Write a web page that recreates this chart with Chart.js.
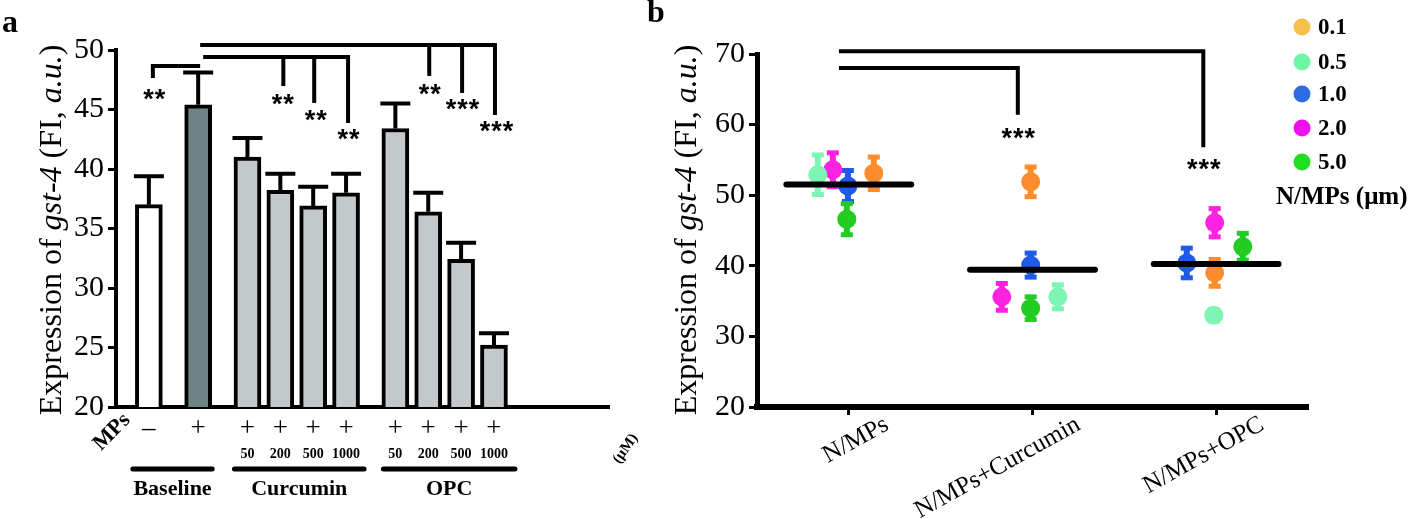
<!DOCTYPE html>
<html><head><meta charset="utf-8">
<script src="https://cdn.jsdelivr.net/npm/chart.js"></script>
<style>
html,body{margin:0;padding:0;background:#fff;}
#wrap{position:relative;width:1418px;height:519px;overflow:hidden;background:#fff;}
#ca{position:absolute;left:0;top:0;}
#cb{position:absolute;left:640px;top:0;}
</style></head><body>
<div id="wrap"><canvas id="ca" width="640" height="519"></canvas><canvas id="cb" width="778" height="519"></canvas></div>
<script>
// ---------- Panel a data ----------
const mpsSigns   = ['–','+','+','+','+','+','+','+','+','+'];
const doseLabels = ['','','50','200','500','1000','50','200','500','1000'];
const groupNames = ['Baseline','Curcumin','OPC'];
const groupOfBar = [0,0,1,1,1,1,2,2,2,2];
const meansA     = [37.0,45.4,41.0,38.2,36.9,38.0,43.4,36.4,32.4,25.2];
const semA       = [2.4,2.7,1.6,1.4,1.6,1.6,2.1,1.6,1.4,1.0];
const yTicksA    = [20,25,30,35,40,45,50];

// ---------- Panel b data ----------
const categoriesB = ['N/MPs','N/MPs+Curcumin','N/MPs+OPC'];
const sizeLabels  = ['0.1','0.5','1.0','2.0','5.0'];
const size01 = [53.1,51.9,39.0];  const err01 = [2.3,2.1,1.9];
const size05 = [52.9,35.6,33.0];  const err05 = [2.8,1.7,0.8];
const size10 = [51.3,40.1,40.4];  const err10 = [2.2,1.7,2.1];
const size20 = [53.6,35.6,46.1];  const err20 = [2.4,1.9,2.0];
const size50 = [46.6,34.0,42.7];  const err50 = [2.2,1.6,1.9];
const yTicksB = [20,30,40,50,60,70];

// ---------- layout / style (not data) ----------
const FONT = "'Liberation Serif', 'Times New Roman', serif";
const slotA = [2,5,8,10,12,14,17,19,21,23];   // category slot of each bar
const TOTAL_SLOTS = 31;
const barFill = ['#ffffff','#6d8487','#c3c8cb','#c3c8cb','#c3c8cb','#c3c8cb','#c3c8cb','#c3c8cb','#c3c8cb','#c3c8cb'];
const seriesB = [size01,size05,size10,size20,size50];
const errorsB = [err01,err05,err10,err20,err50];
const pointColors  = ['#ff8c2a','#7df5b4','#1f5ae8','#ff22e0','#22cc22'];
const legendColors = ['#f6c04a','#6ef5a5','#2f6be0','#ee10ee','#22dd22'];
const jitterB = [
  [0.136,-0.010,-0.008],
  [-0.169,0.138,-0.013],
  [-0.005,-0.010,-0.160],
  [-0.087,-0.167,-0.008],
  [-0.011,-0.010,0.145]
];
const labelShiftB = [32,40,40];

function yTitle(ctx, bx, cy, size){
  const segs = [['Expression of ',false],['gst-4',true],[' (FI, ',false],['a.u.',true],[')',false]];
  let total = 0;
  segs.forEach(s=>{ctx.font=(s[1]?'italic ':'')+size+'px '+FONT; total+=ctx.measureText(s[0]).width;});
  ctx.save(); ctx.translate(bx,cy); ctx.rotate(-Math.PI/2);
  ctx.textBaseline='alphabetic'; ctx.textAlign='left'; ctx.fillStyle='#000';
  let x=-total/2;
  segs.forEach(s=>{ctx.font=(s[1]?'italic ':'')+size+'px '+FONT; ctx.fillText(s[0],x,0); x+=ctx.measureText(s[0]).width;});
  ctx.restore();
}
function stars(ctx, txt, cx, cy){
  ctx.save();
  ctx.font="bold 27px 'Liberation Sans', Arial, sans-serif";
  ctx.letterSpacing='1px';
  ctx.textAlign='center'; ctx.textBaseline='alphabetic'; ctx.fillStyle='#000';
  ctx.fillText(txt, cx+1, cy+15);
  ctx.restore();
}
function poly(ctx, pts, lw){
  ctx.save(); ctx.lineWidth=lw; ctx.strokeStyle='#000'; ctx.lineJoin='miter'; ctx.lineCap='butt';
  ctx.beginPath(); ctx.moveTo(pts[0][0],pts[0][1]);
  for(let i=1;i<pts.length;i++) ctx.lineTo(pts[i][0],pts[i][1]);
  ctx.stroke(); ctx.restore();
}

// ---------- Chart A ----------
const labelsA = Array(TOTAL_SLOTS).fill('');
const dataA = Array(TOTAL_SLOTS).fill(null);
const fillA = Array(TOTAL_SLOTS).fill('#fff');
slotA.forEach((s,i)=>{labelsA[s]=mpsSigns[i]; dataA[s]=meansA[i]; fillA[s]=barFill[i];});

const pluginA = {
  id:'decorA',
  afterDraw(chart){
    const {ctx, scales:{x,y}} = chart;
    const px = i => x.getPixelForValue(slotA[i]);
    const py = v => y.getPixelForValue(v);
    ctx.save();
    ctx.strokeStyle='#000'; ctx.fillStyle='#000';
    // error bars
    ctx.lineWidth=4;
    meansA.forEach((m,i)=>{
      const cx=px(i), y0=py(m), y1=py(m+semA[i]);
      ctx.beginPath(); ctx.moveTo(cx,y0); ctx.lineTo(cx,y1); ctx.moveTo(cx-15,y1); ctx.lineTo(cx+15,y1); ctx.stroke();
    });
    // x labels
    ctx.textAlign='center'; ctx.textBaseline='middle';
    mpsSigns.forEach((s,i)=>{ ctx.font='27px '+FONT; ctx.fillText(s,px(i),429); });
    doseLabels.forEach((d,i)=>{ ctx.font='bold 14px '+FONT; ctx.fillText(d,px(i),454); });
    // MPs
    ctx.save(); ctx.translate(112,432); ctx.rotate(-Math.PI/4);
    ctx.font='bold 22px '+FONT; ctx.fillText('MPs',0,0); ctx.restore();
    // (μM)
    ctx.save(); ctx.translate(616,462); ctx.rotate(-0.95);
    ctx.font='bold 15px '+FONT; ctx.textAlign='left'; ctx.fillText('(μM)',0,0); ctx.restore();
    // group lines
    const gExt = [[-16,14],[-13,18],[-12,21]];
    groupNames.forEach((g,k)=>{
      const idx = groupOfBar.map((v,i)=>v===k?i:-1).filter(i=>i>=0);
      const x1 = px(idx[0])+gExt[k][0], x2 = px(idx[idx.length-1])+gExt[k][1];
      ctx.lineWidth=5; ctx.lineCap='round';
      ctx.beginPath(); ctx.moveTo(x1,469); ctx.lineTo(x2,469); ctx.stroke();
      ctx.font='bold 22px '+FONT; ctx.textAlign='center'; ctx.textBaseline='middle';
      ctx.fillText(g,(x1+x2)/2,489);
    });
    // significance brackets
    poly(ctx,[[px(0)+4,py(47.65)],[px(0)+4,py(48.66)],[px(1)+2,py(48.66)]],4);
    stars(ctx,'**',px(0)+5,py(46.4));
    poly(ctx,[[px(1)+5,py(49.41)],[px(5)+2,py(49.41)],[px(5)+2,py(43.87)]],4);
    poly(ctx,[[px(3)+3,py(49.41)],[px(3)+3,py(46.97)]],4);
    poly(ctx,[[px(4)+1,py(49.41)],[px(4)+1,py(45.55)]],4);
    stars(ctx,'**',px(3)+2,py(45.97));
    stars(ctx,'**',px(4)+2,py(44.6));
    stars(ctx,'**',px(5)+2,py(43.0));
    poly(ctx,[[px(1)+2,py(50.42)],[px(9)+1,py(50.42)],[px(9)+1,py(44.54)]],4);
    poly(ctx,[[px(7)+1,py(50.42)],[px(7)+1,py(47.82)]],4);
    poly(ctx,[[px(8)+1,py(50.42)],[px(8)+1,py(46.39)]],4);
    stars(ctx,'**',px(7)+1,py(46.8));
    stars(ctx,'***',px(8)+1,py(45.55));
    stars(ctx,'***',px(9)+2,py(43.7));
    // titles
    yTitle(ctx,61,230,32);
    ctx.font='bold 32px '+FONT; ctx.textAlign='left'; ctx.textBaseline='alphabetic';
    ctx.fillText('a',2,32);
    ctx.restore();
  }
};

new Chart(document.getElementById('ca'),{
  type:'bar',
  data:{labels:labelsA, datasets:[{data:dataA, backgroundColor:fillA, borderColor:'#000', borderWidth:4, borderSkipped:false, barThickness:27}]},
  options:{
    responsive:false, animation:false, devicePixelRatio:1,
    layout:{padding:{left:0,top:50,right:31,bottom:0}},
    plugins:{legend:{display:false}, tooltip:{enabled:false}},
    scales:{
      x:{offset:false, ticks:{display:false}, grid:{drawOnChartArea:false, drawTicks:false}, border:{display:true,width:4,color:'#000'},
         afterFit(s){s.height=112;}},
      y:{min:20,max:50, afterBuildTicks(s){s.ticks=yTicksA.map(v=>({value:v}));},
         ticks:{font:{family:FONT,size:30}, color:'#000', padding:4},
         grid:{drawOnChartArea:false, drawTicks:true, tickLength:8, tickWidth:3, tickColor:'#000'},
         border:{display:true,width:4,color:'#000'},
         afterFit(s){s.width=116;}}
    }
  },
  plugins:[pluginA]
});

// ---------- Chart B ----------
const pluginB = {
  id:'decorB',
  beforeDatasetsDraw(chart){
    const {ctx, scales:{x,y}} = chart;
    ctx.save();
    seriesB.forEach((ser,k)=>{
      ctx.fillStyle=pointColors[k]; ctx.strokeStyle=pointColors[k];
      ser.forEach((v,g)=>{
        const cx=x.getPixelForValue(g+jitterB[k][g]);
        const yt=y.getPixelForValue(v+errorsB[k][g]), yb=y.getPixelForValue(v-errorsB[k][g]);
        ctx.lineWidth=6; ctx.beginPath(); ctx.moveTo(cx,yt); ctx.lineTo(cx,yb); ctx.stroke();
        ctx.fillRect(cx-6,yt-2.5,12,5); ctx.fillRect(cx-6,yb-2.5,12,5);
      });
    });
    ctx.restore();
  },
  afterDraw(chart){
    const {ctx, scales:{x,y}} = chart;
    const px=v=>x.getPixelForValue(v), py=v=>y.getPixelForValue(v);
    ctx.save();
    // mean lines
    ctx.strokeStyle='#000'; ctx.lineWidth=6; ctx.lineCap='round';
    categoriesB.forEach((c,g)=>{
      const m = seriesB.reduce((a,s)=>a+s[g],0)/seriesB.length;
      ctx.beginPath(); ctx.moveTo(px(g-0.34),py(m)); ctx.lineTo(px(g+0.34),py(m)); ctx.stroke();
    });
    // x labels
    ctx.fillStyle='#000';
    categoriesB.forEach((c,g)=>{
      ctx.save(); ctx.translate(px(g)+labelShiftB[g],412); ctx.rotate(-29*Math.PI/180);
      ctx.font='25px '+FONT; ctx.textAlign='right'; ctx.textBaseline='top';
      ctx.fillText(c,0,0); ctx.restore();
    });
    // brackets
    poly(ctx,[[px(-0.054),py(70.4)],[px(1.93),py(70.4)],[px(1.93),py(56.8)]],4);
    poly(ctx,[[px(-0.054),py(68.0)],[px(0.92),py(68.0)],[px(0.92),py(61.4)]],4);
    stars(ctx,'***',px(0.92),py(59.0));
    stars(ctx,'***',px(1.93),py(54.6));
    // legend
    const ly=[27,62,94,128,162];
    sizeLabels.forEach((l,k)=>{
      ctx.fillStyle=legendColors[k];
      ctx.beginPath(); ctx.arc(662,ly[k],8.5,0,Math.PI*2); ctx.fill();
      ctx.fillStyle='#000'; ctx.font='bold 23px '+FONT; ctx.textAlign='left'; ctx.textBaseline='middle';
      ctx.fillText(l,678,ly[k]+1);
    });
    ctx.font='bold 25px '+FONT; ctx.textAlign='left'; ctx.textBaseline='middle';
    ctx.fillText('N/MPs (μm)',636,198);
    // titles
    yTitle(ctx,56,230,32);
    ctx.font='bold 32px '+FONT; ctx.textAlign='left'; ctx.textBaseline='alphabetic';
    ctx.fillText('b',7,22);
    ctx.restore();
  }
};

new Chart(document.getElementById('cb'),{
  type:'scatter',
  data:{datasets: sizeLabels.map((lab,k)=>({
    label:lab,
    data: seriesB[k].map((v,g)=>({x:g+jitterB[k][g], y:v})),
    backgroundColor:pointColors[k], pointBackgroundColor:pointColors[k],
    pointRadius:9.5, pointBorderWidth:0, showLine:false
  }))},
  options:{
    responsive:false, animation:false, devicePixelRatio:1,
    layout:{padding:{left:0,top:54,right:110,bottom:0}},
    plugins:{legend:{display:false}, tooltip:{enabled:false}},
    scales:{
      x:{type:'linear', min:-0.5, max:2.5, afterBuildTicks(s){s.ticks=categoriesB.map((c,i)=>({value:i}));},
         ticks:{display:false},
         grid:{drawOnChartArea:false, drawTicks:true, tickLength:8, tickWidth:3, tickColor:'#000'},
         border:{display:true,width:6,color:'#000'},
         afterFit(s){s.height=112;}},
      y:{min:20,max:70, afterBuildTicks(s){s.ticks=yTicksB.map(v=>({value:v}));},
         ticks:{font:{family:FONT,size:30}, color:'#000', padding:4},
         grid:{drawOnChartArea:false, drawTicks:true, tickLength:8, tickWidth:3, tickColor:'#000'},
         border:{display:true,width:5,color:'#000'},
         afterFit(s){s.width=117;}}
    }
  },
  plugins:[pluginB]
});
</script>
</body></html>
